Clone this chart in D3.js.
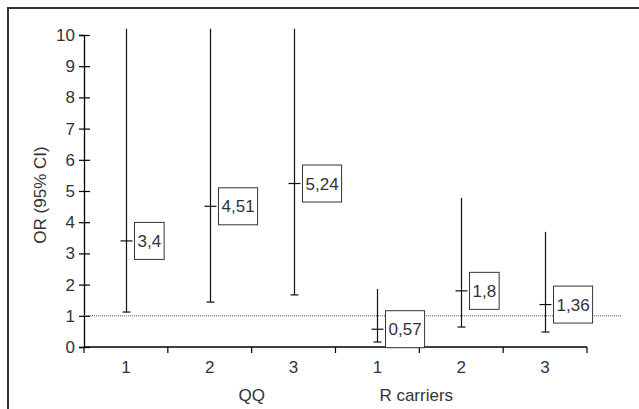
<!DOCTYPE html>
<html>
<head>
<meta charset="utf-8">
<script src="https://cdn.jsdelivr.net/npm/d3@7"></script>
<style>
  body { margin: 0; background: #fff; }
  text { font-family: "Liberation Sans", Arial, sans-serif; fill: #333; }
</style>
</head>
<body>
<div id="canvas"></div>
<script>
// data
const categories = ["QQ1", "QQ2", "QQ3", "R1", "R2", "R3"];
const catLabels = ["1", "2", "3", "1", "2", "3"];
const estimates = [3.4, 4.51, 5.24, 0.57, 1.8, 1.36];
const lowerCI = [1.12, 1.44, 1.67, 0.16, 0.64, 0.48];
const upperCI = [10.2, 10.2, 10.2, 1.86, 4.78, 3.69];
const valueLabels = ["3,4", "4,51", "5,24", "0,57", "1,8", "1,36"];
const yTicks = [0, 1, 2, 3, 4, 5, 6, 7, 8, 9, 10];

const width = 639, height = 409;
const fs = "17px";
const svg = d3.select("#canvas").append("svg")
    .attr("width", width).attr("height", height);

// outer frame (top + left only)
svg.append("path")
    .attr("d", "M8,409 L8,8 L639,8")
    .attr("fill", "none").attr("stroke", "#333").attr("stroke-width", 2);

const y = d3.scaleLinear().domain([0, 10]).range([347, 35]);
const x = d3.scaleBand().domain(categories).range([84, 587]).padding(0);
const bw = x.bandwidth();

// y axis
const yAxis = svg.append("g")
    .attr("transform", "translate(84,0)")
    .call(d3.axisLeft(y).tickValues(yTicks).tickSizeOuter(0).tickSize(5).tickPadding(4));
yAxis.select(".domain").attr("stroke", "#000").attr("stroke-width", 1.3);
yAxis.selectAll(".tick line").attr("x1", 6).attr("stroke", "#000").attr("stroke-width", 1.2);
yAxis.selectAll(".tick text").style("font-size", fs).attr("fill", "#333");

svg.append("text")
    .attr("transform", "translate(46,195) rotate(-90)")
    .attr("text-anchor", "middle")
    .style("font-size", fs)
    .text("OR (95% CI)");

// x axis
svg.append("line")
    .attr("x1", 84).attr("x2", 587).attr("y1", y(0)).attr("y2", y(0))
    .attr("stroke", "#000").attr("stroke-width", 1.3);
const bounds = categories.map(c => x(c)).concat([x(categories[5]) + bw]);
svg.selectAll(".xtick").data(bounds).enter().append("line")
    .attr("x1", d => d).attr("x2", d => d)
    .attr("y1", y(0)).attr("y2", y(0) + 6)
    .attr("stroke", "#000").attr("stroke-width", 1.2);
svg.selectAll(".xlab").data(categories).enter().append("text")
    .attr("x", d => x(d) + bw / 2).attr("y", 373)
    .attr("text-anchor", "middle").style("font-size", fs)
    .text((d, i) => catLabels[i]);

svg.append("text")
    .attr("x", x("QQ3")).attr("y", 401)
    .attr("text-anchor", "middle").style("font-size", fs).text("QQ");
svg.append("text")
    .attr("x", x("R1") + bw / 2 + 2).attr("y", 401)
    .attr("text-anchor", "start").style("font-size", fs).text("R carriers");

// reference line at OR = 1
svg.append("line")
    .attr("x1", 84).attr("x2", 622).attr("y1", y(1)).attr("y2", y(1))
    .attr("stroke", "#555").attr("stroke-width", 1).attr("stroke-dasharray", "1,1");

// error bars
const g = svg.append("g");
categories.forEach((c, i) => {
  const cx = Math.round(x(c) + bw / 2) + 0.5;
  g.append("line")
      .attr("x1", cx).attr("x2", cx)
      .attr("y1", y(lowerCI[i])).attr("y2", y(upperCI[i]))
      .attr("stroke", "#111").attr("stroke-width", 1.2);
  g.append("line")
      .attr("x1", cx - 4).attr("x2", cx + 4)
      .attr("y1", y(lowerCI[i])).attr("y2", y(lowerCI[i]))
      .attr("stroke", "#111").attr("stroke-width", 1.2);
  g.append("line")
      .attr("x1", cx - 6).attr("x2", cx + 6)
      .attr("y1", y(estimates[i])).attr("y2", y(estimates[i]))
      .attr("stroke", "#111").attr("stroke-width", 1.2);

  const t = g.append("text")
      .attr("x", cx + 11).attr("y", y(estimates[i]) + 6)
      .style("font-size", fs)
      .text(valueLabels[i]);
  const tw = t.node().getComputedTextLength();
  g.insert("rect", "text")
      .attr("x", cx + 8).attr("y", y(estimates[i]) - 18.5)
      .attr("width", tw + 6).attr("height", 37)
      .attr("fill", "#fff").attr("stroke", "#333").attr("stroke-width", 1);
});
</script>
</body>
</html>
